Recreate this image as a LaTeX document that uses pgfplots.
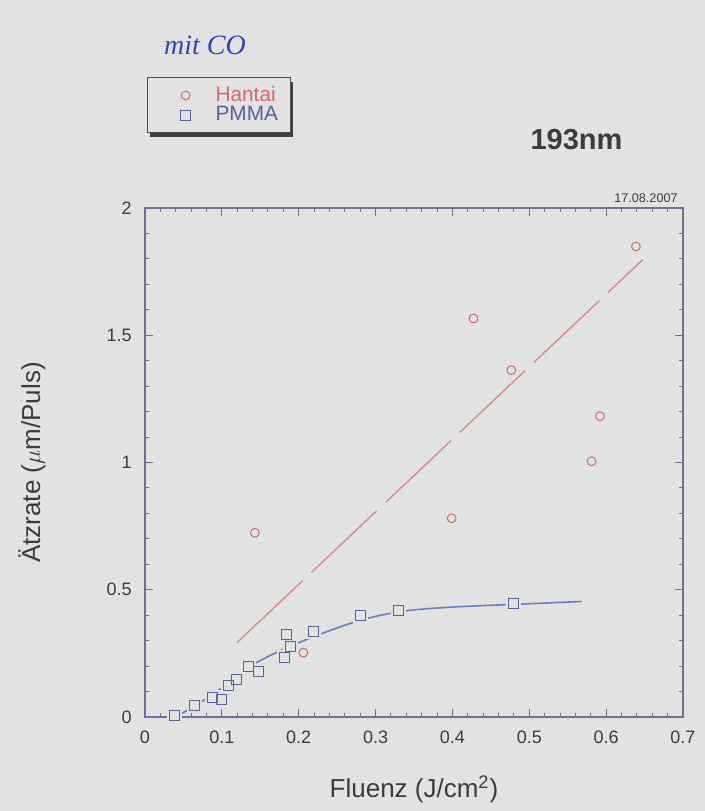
\documentclass[border=0pt]{standalone}
\usepackage{pgfplots}
\pgfplotsset{compat=1.18}
\usepackage{fontspec}
\setmainfont{Liberation Sans}
\newfontfamily\handfont{Liberation Serif}
\definecolor{bg}{HTML}{E2E2E2}
\definecolor{axiscol}{HTML}{6B7094}
\definecolor{hred}{HTML}{D06A6A}
\definecolor{hredline}{HTML}{D48C8C}
\definecolor{pblue}{HTML}{5B6396}
\definecolor{pblueline}{HTML}{6E7EC0}
\definecolor{txt}{HTML}{3C3C3C}
\definecolor{pen}{HTML}{3346B4}

\pgfplotstableread{
x y
0.1430 0.724
0.2060 0.253
0.3990 0.781
0.4275 1.566
0.4766 1.363
0.5810 1.005
0.5920 1.182
0.6387 1.849
}\hantai

\pgfplotstableread{
x y
0.0390 0.004
0.0640 0.044
0.0880 0.076
0.1000 0.070
0.1090 0.122
0.1190 0.148
0.1345 0.198
0.1480 0.177
0.1810 0.235
0.1890 0.277
0.1845 0.324
0.2190 0.336
0.2800 0.398
0.3300 0.417
0.4790 0.447
}\pmma

\pgfplotstableread{
x y
0.040 0.000
0.063 0.041
0.085 0.082
0.110 0.138
0.135 0.196
0.155 0.230
0.175 0.259
0.200 0.292
0.225 0.322
0.250 0.350
0.280 0.380
0.310 0.402
0.350 0.421
0.400 0.432
0.450 0.439
0.500 0.445
0.568 0.454
}\pmmafit

\pgfplotstableread{
x y
0.120 0.293
0.648 1.798
}\hantaifit

\begin{document}
\begin{tikzpicture}
\fill[bg] (-72.5pt,-47pt) rectangle (280pt,358.5pt);
% legend shadow
\fill[black!75] (2.5pt,290.2pt) rectangle (74pt,317.5pt);
\begin{axis}[
  scale only axis, width=269pt, height=254.5pt,
  xmin=0, xmax=0.7, ymin=0, ymax=2,
  xtick={0,0.1,0.2,0.3,0.4,0.5,0.6,0.7},
  ytick={0,0.5,1,1.5,2},
  minor x tick num=4, minor y tick num=4,
  tick align=inside, major tick length=4pt, minor tick length=2pt,
  axis on top,
  axis line style={axiscol, line width=0.7pt},
  every tick/.style={axiscol, line width=0.5pt},
  ticklabel style={font=\fontsize{9}{10}\selectfont, text=txt,
    /pgf/number format/fixed, /pgf/number format/assume math mode=true},
  xticklabel style={inner sep=0pt, anchor=north, yshift=-7pt},
  yticklabel style={inner sep=0pt, anchor=east, xshift=-6.5pt},
  xlabel={Fluenz (J/cm\textsuperscript{2})},
  ylabel={Ätzrate ($\mu$m/Puls)},
  xlabel style={at={(axis description cs:0.5,-0.1572)}, anchor=base,
    font=\fontsize{13}{15}\selectfont, text=txt},
  ylabel style={at={(axis description cs:-0.21,0.5)}, anchor=center,
    font=\fontsize{13}{15}\selectfont, text=txt},
  legend style={at={(axis description cs:0.0037,1.257)}, anchor=north west,
    draw=black!70, fill=bg, line width=0.6pt, inner xsep=0pt, inner ysep=4.3pt,
    row sep=1.1pt, font=\fontsize{10.4}{11}\selectfont,
    nodes={inner sep=0pt, anchor=west},
    /tikz/every odd column/.append style={column sep=4pt}},
  legend cell align=left,
  legend image code/.code={
    \path[draw=none, fill=none] (0pt,-3pt) rectangle (30pt,3pt);
    \draw[mark repeat=2,mark phase=2] plot coordinates {(0pt,0pt) (19pt,0pt) (30pt,0pt)};},
]
% fits
\addplot[forget plot, hredline, line width=0.7pt, dash pattern=on 45pt off 6pt] table {\hantaifit};
\addplot[forget plot, pblueline, line width=0.8pt, smooth] table {\pmmafit};
% gaps of the fit line around the squares
\addplot[forget plot, only marks, mark=square*, mark size=2.5pt,
  mark options={draw=bg, fill=bg, line width=2.5pt}] table {\pmma};
% data
\addplot[only marks, mark=o, mark size=2.2pt, mark options={hred, line width=0.5pt}] table {\hantai};
\addlegendentry{\makebox[37.5pt][l]{\textcolor{hred}{Hantai}}}
\addplot[only marks, mark=square, mark size=2.5pt, mark options={pblue, line width=0.5pt}] table {\pmma};
\addlegendentry{\makebox[37.5pt][l]{\textcolor{pblue}{PMMA}}}
\end{axis}
\node[text=pen, font=\handfont\itshape\fontsize{14}{14}\selectfont] at (30pt,336pt) {mit CO};
\node[text=txt, font=\bfseries\fontsize{14.5}{15}\selectfont] at (215.75pt,288.75pt) {193nm};
\node[text=txt, font=\fontsize{6.3}{7}\selectfont] at (250.5pt,259.5pt) {17.08.2007};
\pgfresetboundingbox
\useasboundingbox (-72.5pt,-47pt) rectangle (280pt,358.5pt);
\end{tikzpicture}
\end{document}
